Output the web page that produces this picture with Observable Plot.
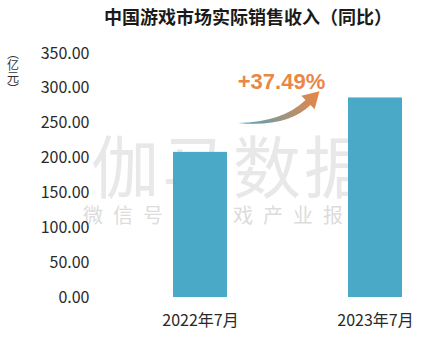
<!DOCTYPE html>
<html><head><meta charset="utf-8">
<script src="https://cdn.jsdelivr.net/npm/d3@7"></script>
<script src="https://cdn.jsdelivr.net/npm/@observablehq/plot@0.6"></script>
<style>body{margin:0;background:#fff;}</style>
</head><body><div id="chart"></div>
<script>
const title = "中国游戏市场实际销售收入（同比）";
const yLabel = "（亿元）";
const categories = ["2022年7月", "2023年7月"];
const revenue = [208.18, 286.22];
const yTicks = [0, 50, 100, 150, 200, 250, 300, 350];
const watermark = "伽马数据";
const watermarkSub = "微信号：游戏产业报告";

const data = categories.map((c, i) => ({month: c, value: revenue[i]}));
const growthLabel = "+" + ((revenue[1] / revenue[0] - 1) * 100).toFixed(2) + "%";
const font = "'Noto Sans CJK SC', 'Noto Sans', sans-serif";

function svgEl(name) { return document.createElementNS("http://www.w3.org/2000/svg", name); }

// watermark (behind bars)
const watermarkMark = (index, scales, values, dim) => {
  const g = svgEl("g");
  g.setAttribute("text-anchor", "start");
  const t1 = svgEl("text");
  t1.setAttribute("x", dim.marginLeft - 9);
  t1.setAttribute("y", dim.marginTop + 110);
  t1.setAttribute("dominant-baseline", "central");
  t1.setAttribute("font-size", 68);
  t1.setAttribute("letter-spacing", 3);
  t1.setAttribute("fill", "#e8e8e8");
  t1.textContent = watermark;
  const t2 = svgEl("text");
  t2.setAttribute("x", dim.marginLeft - 17);
  t2.setAttribute("y", dim.marginTop + 161);
  t2.setAttribute("dominant-baseline", "central");
  t2.setAttribute("font-size", 20);
  t2.setAttribute("letter-spacing", 10);
  t2.setAttribute("fill", "#dcdcdc");
  t2.textContent = watermarkSub;
  g.append(t1, t2);
  return g;
};

// growth arrow + label, anchored on the bars via scales
const arrowMark = (index, scales, values, dim) => {
  const sx = scales.x, sy = scales.y;
  const bw = typeof sx.bandwidth === "function" ? sx.bandwidth() : sx.bandwidth;
  const xa = sx(categories[0]) + bw, xb = sx(categories[1]);
  const ya = sy(revenue[0]), yb = sy(revenue[1]);
  const T = [xa + 11, ya - 29];
  const C = [xa + 58, ya - 27];
  const B = [xb - 40, yb + 5];
  let d = [B[0] - C[0], B[1] - C[1]];
  const len = Math.hypot(d[0], d[1]);
  d = [d[0] / len, d[1] / len];
  const p = [-d[1], d[0]];
  const w = 3.6, hw = 9.5, hl = 16;
  const H = [B[0] + d[0] * hl, B[1] + d[1] * hl];
  const g = svgEl("g");
  const defs = svgEl("defs");
  const grad = svgEl("linearGradient");
  grad.setAttribute("id", "growthGrad");
  grad.setAttribute("gradientUnits", "userSpaceOnUse");
  grad.setAttribute("x1", T[0]); grad.setAttribute("y1", T[1]);
  grad.setAttribute("x2", H[0]); grad.setAttribute("y2", H[1]);
  const s1 = svgEl("stop"); s1.setAttribute("offset", "0"); s1.setAttribute("stop-color", "#4aa4bf");
  const s2 = svgEl("stop"); s2.setAttribute("offset", "1"); s2.setAttribute("stop-color", "#ec8543");
  grad.append(s1, s2); defs.append(grad);
  const f = (pt) => pt[0].toFixed(1) + "," + pt[1].toFixed(1);
  const lo = [B[0] + p[0] * w, B[1] + p[1] * w];
  const up = [B[0] - p[0] * w, B[1] - p[1] * w];
  const hlo = [B[0] + p[0] * hw, B[1] + p[1] * hw];
  const hup = [B[0] - p[0] * hw, B[1] - p[1] * hw];
  const path = svgEl("path");
  path.setAttribute("d",
    "M" + f(T) + " Q" + f([C[0] + 2, C[1] + 3]) + " " + f(lo) +
    " L" + f(hlo) + " L" + f(H) + " L" + f(hup) + " L" + f(up) +
    " Q" + f([C[0] - 2, C[1] - 3]) + " " + f(T) + "Z");
  path.setAttribute("fill", "url(#growthGrad)");
  const label = svgEl("text");
  label.setAttribute("x", (xa + xb) / 2 - 6);
  label.setAttribute("y", yb - 16);
  label.setAttribute("text-anchor", "middle");
  label.setAttribute("dominant-baseline", "central");
  label.setAttribute("font-family", "'Liberation Sans', Arial, sans-serif");
  label.setAttribute("font-weight", "bold");
  label.setAttribute("font-size", 22);
  label.setAttribute("fill", "#e8874a");
  label.textContent = growthLabel;
  g.append(defs, path, label);
  return g;
};

// vertical unit label
const yLabelMark = (index, scales, values, dim) => {
  const t = svgEl("text");
  t.setAttribute("x", 13);
  t.setAttribute("y", dim.marginTop - 6);
  t.setAttribute("text-anchor", "start");
  t.setAttribute("style", "writing-mode: vertical-rl;");
  t.setAttribute("font-size", 12);
  t.setAttribute("fill", "#333");
  t.textContent = yLabel;
  return t;
};

const chart = Plot.plot({
  width: 433, height: 355,
  marginTop: 53, marginBottom: 58, marginLeft: 100, marginRight: 0,
  style: {fontFamily: font, fontSize: "16px", color: "#222", background: "#fff"},
  x: {domain: categories, paddingInner: 0.689, paddingOuter: 0.292, align: 0.701, label: null},
  y: {domain: [0, 350], label: null},
  marks: [
    watermarkMark,
    Plot.barY(data, {x: "month", y: "value", fill: "#4aa9c6"}),
    Plot.axisY({ticks: yTicks, tickFormat: d3.format(".2f"), tickSize: 0, tickPadding: 11, label: null, fontSize: 16, fill: "#2a2a2a"}),
    Plot.axisX({tickSize: 0, tickPadding: 17, label: null, fontSize: 16, fill: "#2a2a2a"}),
    arrowMark,
    Plot.text([title], {frameAnchor: "top", lineAnchor: "middle", dx: -19, dy: -35.5, fontSize: 18, fontWeight: "bold", fill: "#1a1a1a"}),
    yLabelMark
  ]
});
document.getElementById("chart").append(chart);
</script>
</body></html>
